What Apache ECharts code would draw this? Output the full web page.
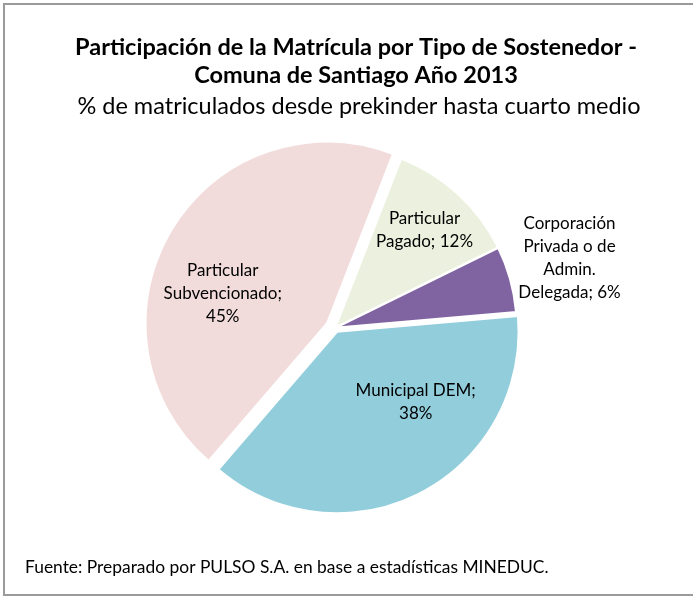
<!DOCTYPE html>
<html><head><meta charset="utf-8">
<script src="https://cdn.jsdelivr.net/npm/echarts@6/dist/echarts.min.js"></script>
<style>
html,body{margin:0;padding:0;background:#fff;overflow:hidden;width:693px;height:596px;}
#frame{position:absolute;left:3px;top:3px;width:688px;height:589px;border-left:2px solid #9a9a9a;border-top:2px solid #9a9a9a;border-bottom:2px solid #9a9a9a;border-right:none;}
#chart{position:absolute;left:0;top:0;width:693px;height:596px;}
</style></head>
<body>
<div id="frame"></div>
<div id="chart"></div>
<script>
const categories = ['Municipal DEM', 'Particular\nSubvencionado', 'Particular\nPagado', 'Corporación\nPrivada o de\nAdmin.\nDelegada'];
const values = [37.7, 44.6, 11.8, 5.9];
const colors = ['#92CDDC', '#F2DCDB', '#EBF1DE', '#8064A2'];
const labelOffsets = [[36, -13], [-24, 19], [26, -29], [144, -45]];
const labelSeparator = [';\n', ';\n', '; ', '; '];

const font = 'Lato, "Open Sans", sans-serif';
const chart = echarts.init(document.getElementById('chart'), null, {renderer: 'canvas'});

function buildData(visibleIdx, selectedIdx) {
  return categories.map((c, i) => {
    const vis = visibleIdx.includes(i);
    return {
      name: c,
      value: values[i],
      selected: vis && selectedIdx.includes(i),
      itemStyle: vis ? {color: colors[i], borderColor: '#fff', borderWidth: 2.5} : {color: 'rgba(0,0,0,0)', borderColor: 'rgba(0,0,0,0)', borderWidth: 0},
      label: vis ? {show: true, formatter: p => c + labelSeparator[i] + Math.round(values[i]) + '%'} : {show: false},
      labelLine: {show: false},
      emphasis: {disabled: true}
    };
  });
}

const common = {
  type: 'pie',
  center: [335, 328],
  radius: [0, 182],
  startAngle: 5,
  clockwise: true,
  selectedMode: 'multiple',
  avoidLabelOverlap: false,
  animation: false,
  label: {position: 'inside', color: '#000', fontFamily: font, fontSize: 17, lineHeight: 23, align: 'center'},
  labelLine: {show: false},
  labelLayout: p => ({dx: labelOffsets[p.dataIndex][0], dy: labelOffsets[p.dataIndex][1]}),
  emphasis: {disabled: true}
};

chart.setOption({
  backgroundColor: 'transparent',
  title: [
    {text: 'Participación de la Matrícula por Tipo de Sostenedor -\nComuna de Santiago Año 2013', left: 351, top: 28, textAlign: 'center',
     textStyle: {fontFamily: font, fontWeight: 'bold', fontSize: 23.5, lineHeight: 28, color: '#000'}},
    {text: '% de matriculados desde prekinder hasta cuarto medio', left: 354, top: 88, textAlign: 'center',
     textStyle: {fontFamily: font, fontWeight: 'normal', fontSize: 23.5, lineHeight: 26, color: '#000'}},
    {text: 'Fuente: Preparado por PULSO S.A. en base a estadísticas MINEDUC.', left: 20, top: 551,
     textStyle: {fontFamily: font, fontWeight: 'normal', fontSize: 17.4, lineHeight: 22, color: '#000'}}
  ],
  series: [
    Object.assign({}, common, {name: 'A', selectedOffset: 9, data: buildData([1], [1])}),
    Object.assign({}, common, {name: 'B', selectedOffset: 4, data: buildData([0, 2, 3], [0])})
  ]
});
</script>
</body></html>
